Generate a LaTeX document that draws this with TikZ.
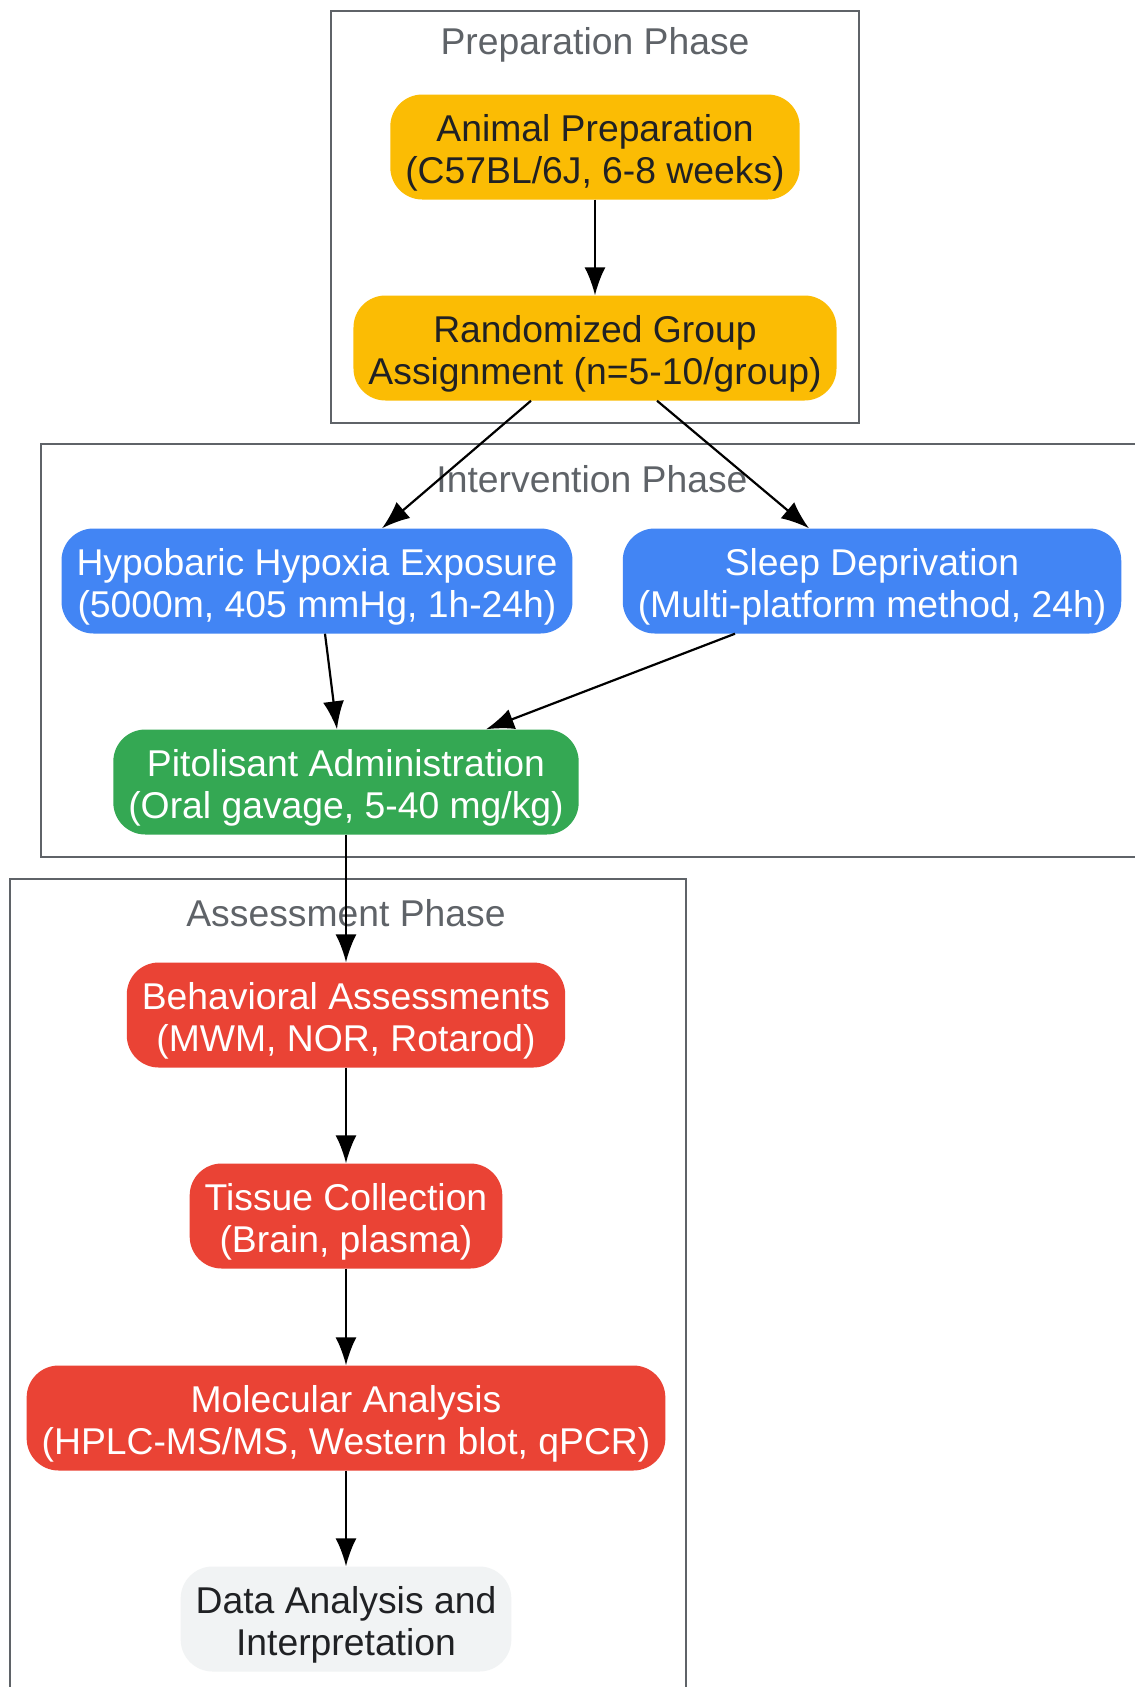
\documentclass[tikz,border=0pt]{standalone}
\usepackage{fontspec}
\setmainfont{Liberation Sans}
\usetikzlibrary{arrows.meta,calc}
\definecolor{gyellow}{HTML}{FBBC04}
\definecolor{gblue}{HTML}{4285F4}
\definecolor{ggreen}{HTML}{34A853}
\definecolor{gred}{HTML}{EA4335}
\definecolor{ggray}{HTML}{F1F3F4}
\definecolor{gdark}{HTML}{202124}
\definecolor{gborder}{HTML}{5F6368}
\begin{document}
\begin{tikzpicture}[x=1pt,y=-1pt,
  box/.style={rounded corners=32pt, minimum height=105pt, inner xsep=15pt, inner ysep=0pt,
    align=center, font=\fontsize{37.3}{42}\selectfont,
    execute at begin node={\rule{0pt}{80pt}}},
  ybox/.style={box, fill=gyellow, text=gdark},
  bbox/.style={box, fill=gblue, text=white},
  gbox/.style={box, fill=ggreen, text=white},
  rbox/.style={box, fill=gred, text=white},
  dbox/.style={box, fill=ggray, text=gdark},
  cluster/.style={draw=gborder, line width=2pt, anchor=north west, inner sep=0pt},
  clabel/.style={text=gborder, font=\fontsize{37.3}{42}\selectfont, inner sep=0pt},
  arr/.style={draw=black, line width=2.2pt, -{Latex[length=28pt,width=21pt]}}]
\useasboundingbox (0,0) rectangle (1135,1687);
\fill[white] (0,0) rectangle (1135,1687);
% clusters
\node[cluster, minimum width=528pt, minimum height=412pt] (prepC) at (330,10) {};
\node[cluster, minimum width=1110pt, minimum height=413pt] (intC) at (40,443) {};
\node[cluster, minimum width=676pt, minimum height=830pt] (assC) at (9,878) {};
\node[clabel] (prepL) at (595,45) {Preparation Phase};
\node[clabel] (intL) at (592,479) {Intervention Phase};
\node[clabel] (assL) at (346,913) {Assessment Phase};
% nodes
\node[ybox] (anim) at (595,147) {Animal Preparation\\(C57BL/6J, 6-8 weeks)};
\node[ybox] (rand) at (595,348) {Randomized Group\\Assignment (n=5-10/group)};
\node[bbox] (hypo) at (317,581) {Hypobaric Hypoxia Exposure\\(5000m, 405 mmHg, 1h-24h)};
\node[bbox] (sleep) at (872,581) {Sleep Deprivation\\(Multi-platform method, 24h)};
\node[gbox] (pito) at (346,782) {Pitolisant Administration\\(Oral gavage, 5-40 mg/kg)};
\node[rbox] (behav) at (346,1015) {Behavioral Assessments\\(MWM, NOR, Rotarod)};
\node[rbox] (tissue) at (346,1216) {Tissue Collection\\(Brain, plasma)};
\node[rbox] (molec) at (346,1418) {Molecular Analysis\\(HPLC-MS/MS, Western blot, qPCR)};
\node[dbox] (data) at (346,1619) {Data Analysis and\\Interpretation};
% edges
\draw[arr] (anim.south) -- (rand.north);
\draw[arr] ($(rand.south)+(-64,0)$) -- ($(hypo.north)+(65,0)$);
\draw[arr] ($(rand.south)+(62,0)$) -- ($(sleep.north)+(-63,0)$);
\draw[arr] ($(hypo.south)+(8,0)$) -- ($(pito.north)+(-9,0)$);
\draw[arr] ($(sleep.south)+(-137,0)$) -- ($(pito.north)+(140,0)$);
\draw[arr] (pito.south) -- (behav.north);
\draw[arr] (behav.south) -- (tissue.north);
\draw[arr] (tissue.south) -- (molec.north);
\draw[arr] (molec.south) -- (data.north);
\end{tikzpicture}
\end{document}
